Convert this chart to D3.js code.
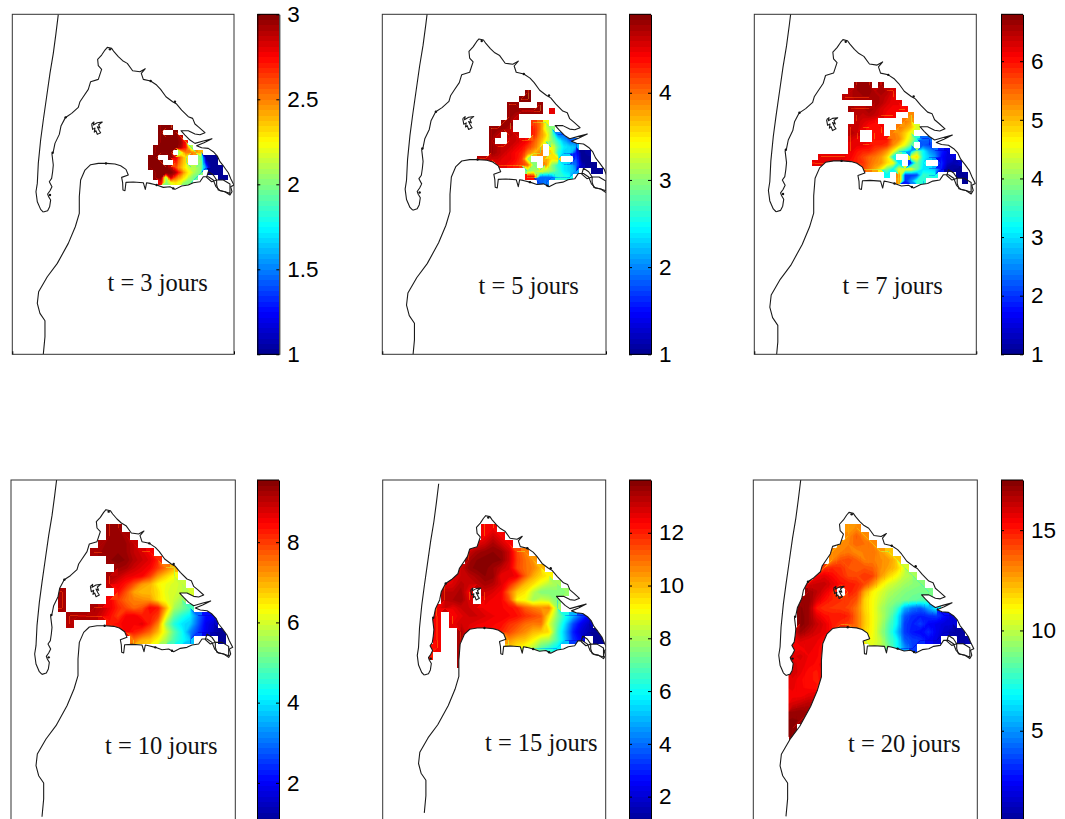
<!DOCTYPE html>
<html lang="fr">
<head>
<meta charset="UTF-8">
<title>t = 3 a 20 jours</title>
<script src="https://cdn.jsdelivr.net/npm/d3@7"></script>
<style>
  html, body { margin: 0; background: #fff; overflow: hidden; }
  svg { display: block; }
  .soft { filter: blur(0.6px); }
</style>
</head>
<body>
<script>
const _ = null;

const days = [3, 5, 7, 10, 15, 20];
const barMin = [1, 1, 1, 1, 1, 0.4];
const barMax = [3, 4.9, 6.8, 9.55, 14, 17.5];
const barTicks = [
  [1, 1.5, 2, 2.5, 3],
  [1, 2, 3, 4],
  [1, 2, 3, 4, 5, 6],
  [2, 4, 6, 8],
  [2, 4, 6, 8, 10, 12],
  [5, 10, 15]
];

// coast, digitised in the units of the first panel (3 units per pixel)
const spitOuter = [[175,43],[168,100],[160,160],[150,220],[140,290],[130,360],[122,420],[115,490],[112,550],[108,575],[112,605],[122,628],[130,636]];
const bayShore = [[130,636],[143,632],[149,620],[152,600],[146,590],[143,582],[150,572],[156,560],[148,545],[155,535],[158,515],[160,495],[156,462],[160,455],[165,430],[178,403],[183,378],[195,355],[200,350],[215,340],[235,322],[240,305],[250,290],[265,268],[272,245],[295,238],[305,208],[295,197],[293,178],[305,165],[315,150],[322,142],[335,145],[342,155],[355,170],[368,182],[382,190],[398,212],[420,215],[436,206],[424,220],[430,238],[452,243],[470,255],[482,268],[498,290],[518,305],[530,312],[545,330],[565,350],[578,355],[585,372],[597,382],[615,398],[600,404],[585,402],[565,392],[543,392],[555,405],[570,420],[585,430],[610,423],[636,416],[612,428],[590,437],[605,443],[625,445],[640,455],[652,468],[660,485],[672,500],[685,518],[692,535],[702,555],[692,560],[696,575],[690,585],[675,575],[660,572],[648,560],[640,540],[625,530],[610,530],[600,545],[580,548],[565,555],[545,558],[525,568],[510,560],[490,562],[470,555],[450,550],[440,548],[436,568],[430,548],[400,546],[378,547],[375,572],[369,570],[368,548],[365,532],[385,525],[378,508],[362,497],[345,492],[320,490],[295,490],[272,494],[255,510],[242,540],[238,590],[238,640],[226,680],[205,730],[172,790],[142,830],[116,875],[112,910],[120,940],[135,962],[135,1010],[130,1063]];
const islandShore = [[275,372],[282,366],[280,375],[292,368],[307,366],[296,374],[300,384],[292,380],[298,392],[302,398],[292,403],[288,392],[283,396],[285,384],[278,388],[275,372]];
const eastIslets = [
  [[650,540],[670,540],[690,552],[690,580],[675,575],[655,570],[650,555],[650,540]],
  [[625,515],[640,525],[650,540],[635,545],[620,532],[625,515]]
];
const shoreDots = [[330,148],[318,490],[452,243],[158,458],[197,352],[525,305],[150,585],[470,555],[520,565]];

// concentration, row by row, null where nothing is drawn
const field3 = [
  [_,_,3,3,3],
  [_,_,3,_,_,3],
  [_,_,3,3,3,3,2.9],
  [_,_,3,3,3,3,2.95,2.7],
  [_,3,3,3,3,3,2.9,2.7,2.1],
  [_,3,3,3,3,_,2.1,2.5,2.5,2.45,2.4],
  [3,3,_,_,3,2.8,2.5,2.3,_,_,2,1,1,1],
  [3,3,3,_,_,2.7,2.45,2.3,_,_,2.05,1.2,1,1],
  [3,3,3,3,2.9,2.6,2.4,2.25,2.1,2.1,2,1.5,1,1,1],
  [_,3,3,3,3,2.9,2.6,2.35,2.2,2.05,2,_,1,1,1],
  [_,3,3,2,2.85,2.55,2.4,2.25,2.05,1.95,_,_,_,_,1,1],
  [_,_,2.8,2,2.2,2.3,2.2,2,2]
];
const field5 = [
  [_,_,_,_,_,_,_,_,4.9],
  [_,_,_,_,_,_,_,4.9,4.9],
  [_,_,_,_,_,4.8,4.8,_,_,_,4.8],
  [_,_,_,_,_,4.8,4.8,4.8,4.8,4.8,4.8,_,4.5],
  [_,_,_,_,_,4.8,4.7],
  [_,_,_,_,4.8,4.8,_,_,_,4.2,4,3.4],
  [_,_,4.8,4.8,4.8,4.7,_,_,_,4.3,4,3.3,3],
  [_,_,4.8,4.7,_,4.7,4.6,_,_,4.3,3.9,3.6,2.9,2,1.9],
  [_,_,4.8,_,_,4.6,4.6,4.5,4.4,4.1,3.8,3.4,3,2.6,2.2,1.9,1.9],
  [_,_,4.8,4.7,4.6,4.6,4.5,4.4,4.2,4,3.7,_,3.4,2.8,2.4,2.3,2.2],
  [_,_,4.8,4.7,4.6,4.5,4.4,4.3,3.9,3.7,3.9,_,3.6,2.6,2.3,2.3,1.6,1,1.1],
  [4.7,4.7,4.6,4.6,4.5,4.5,4.4,4.2,3.1,_,_,3.8,3.5,3.6,_,_,1.8,1,1],
  [_,4.6,_,4.5,4.5,4.4,4.3,4.2,4,3,_,3.9,3,2.6,2.4,2.3,1.9,1.2,1,1],
  [_,_,_,_,_,_,_,_,3,3.1,3.4,3.2,3,2.7,2.4,2.3,2.1,_,_,1,1],
  [_,_,_,_,_,_,_,_,4.4,4.4,1.9,1.9,2,2.6,2.6,2.5],
  [_,_,_,_,_,_,_,_,_,_,1.8,2]
];
const field7 = [
  [_,_,_,_,_,_,_,6.7,6.7,6.7,_,6.7],
  [_,_,_,_,_,_,6.5,6.6,6.7,6.7,6.5,6.6,6.5,6.3],
  [_,_,_,_,_,6.5,6.5,6.6,6.6,6.6,6.6,6.5,6.4,6.2],
  [_,_,_,_,_,_,_,_,_,_,6.6,6.5,6.3,6.2,6.2],
  [_,_,_,_,_,_,6.6,6.5,6.5,6.6,6.5,6.3,6.2,6.1,6.1,6],
  [_,_,_,_,_,_,_,6.5,6.4,6.5,6.4,6.3,6.1,6.1,_,_,5.3],
  [_,_,_,_,_,_,_,6.4,6.3,6.2,6.1,_,_,_,_,5.4,5.2],
  [_,_,_,_,_,_,6.4,6.4,6.2,6,6,6.1,_,_,5.4,5.2,5,4.4],
  [_,_,_,_,_,_,6.5,6.4,_,_,6,6,_,5.4,5.2,4.9,4.5],
  [_,_,_,_,_,_,6.3,6.2,_,_,6,6,6,5.4,5.3,4.8,4.3,3.4,2.3,2.3],
  [_,_,_,_,_,_,6.2,6.2,6.2,6.1,5.9,5.9,5.8,5.3,4.9,4.5,3.8,_,2.2,2.1],
  [_,_,_,_,_,_,6.2,6,5.9,5.9,5.7,5.5,5.2,4.7,3.8,3.3,2.6,4,3.2,2.6,2.3,1.9,1.6],
  [_,6.2,6.2,6.2,6.2,6.2,6.1,5.9,5.7,5.5,5.4,5.2,4.8,3.3,_,_,4.5,4.8,3.2,2.9,2.6,1.8,1.5,1.6],
  [6.2,6.2,6.2,6.2,6.2,6.1,6,5.9,5.8,5.5,5.3,5.2,4.8,4.6,3,_,2,3.8,3.2,_,_,2,1.4,1.2,1.4],
  [_,_,_,_,_,_,_,_,5.7,5.4,5.1,4.7,3.8,3.2,4.4,4.5,4.5,3.8,3,3,2.8,1.9,1.1,1.1,1],
  [_,_,_,_,_,_,_,_,_,_,_,_,3.2,_,5.3,2,2,2.1,3.5,3.4,3.3,_,_,_,1,1.1],
  [_,_,_,_,_,_,_,_,_,_,_,_,_,_,5.2,1.9,2.5,3.4,3.4,_,_,_,_,_,_,1]
];
const field10 = [
  [_,_,_,_,_,_,9.3,9.3],
  [_,_,_,_,_,_,9.3,9.4,9.2],
  [_,_,_,_,_,9.2,9.4,9.4,9.3,9],
  [_,_,_,_,9.2,9.3,9.4,9.4,9.3,9,8.8,8.5],
  [_,_,_,_,_,_,9.4,9.5,9.4,9.1,8.9,8.7,8.2],
  [_,_,_,_,_,_,_,9.3,9.2,8.9,8.7,8.5,8,7.5,7],
  [_,_,_,_,_,_,9.2,9,8.7,8.6,8.5,8,7.2,6.7,6.3],
  [_,_,_,_,_,_,8.9,8.6,8.3,7.8,7.2,7,6.4,6.2,6,5.9],
  [9.2,_,_,_,_,_,_,8.4,7.8,7.1,6.9,6.9,6.6,6.1,6,5.8,6],
  [9.2,_,_,_,_,_,8.6,8,7.6,7.4,7.3,7.2,6.6,6.2,5.9,5.5],
  [9.2,_,_,_,9.2,9,8.6,8.2,7.9,7.6,7.8,8.5,8.3,7,5.6,5.2,4.8],
  [_,9.2,9.2,9.2,9.1,8.8,8.4,8,8.5,8.6,8.3,8.3,8,6.3,5,4.5,4.1,3,2.1,2],
  [_,9.1,_,_,_,_,8.3,8.4,8.6,8.5,8.7,8.2,7.4,5.5,4.5,4,3.8,2.8,1.9,1.6],
  [_,_,_,_,_,_,_,8,8.6,8.3,8,7.6,6.9,6,5,4.3,3.2,2.5,1.9,1.4,1.1],
  [_,_,_,_,_,_,_,_,_,7.5,7,6.8,6.3,5.6,4.8,4.3,3.8,_,_,_,1.1]
];
const field15 = [
  [_,_,_,_,_,_,_,12.5,12.5],
  [_,_,_,_,_,_,_,12.5,13,12.5],
  [_,_,_,_,_,_,12.7,13,13.5,13,12.5],
  [_,_,_,_,_,13,13.5,13.7,13.8,13.7,13,11.5,10.8],
  [_,_,_,_,_,13.5,13.8,13.9,13.9,13.8,13,11.6,11,10.5],
  [_,_,_,_,13,13.7,13.9,13.9,13.6,13.2,12.8,11.5,11,10.7,10],
  [_,_,_,12.7,13,13.2,13.5,13.8,13.7,12.6,12.7,12.5,11.2,10.2,9.6,9.2],
  [_,_,12.6,12.8,13.3,13,13.2,13.5,13.3,12.8,12,11,10,9.5,8.8,8.2,8],
  [_,_,13.2,13.2,13.5,12.5,_,13,12.8,12.5,11,9.8,9.4,8.3,7.5,7.5,7.6,7.8],
  [_,_,13.2,13.4,13.6,12.8,_,12.7,12.5,12.4,11.5,9.2,9,8,8.5,8.2,7.5],
  [_,12.5,13,12.6,13,13,12.8,12.5,12.4,12.4,12.3,12,11.2,10.8,10.5,10.7,8],
  [_,12.4,_,12.4,12.7,13,13,12.8,12.6,12.5,12.4,12.2,11.8,11.5,11.2,9.5,7.6,6.2,5,3.6,2.5],
  [_,12.4,_,12.6,13,12.8,12.6,12.5,12.4,12.3,11.8,11.5,11,10.8,10.9,8.7,7.2,5.5,3.5,2.4,1.7],
  [_,12.4,_,_,13.5,12.5,12.3,12.3,12.3,12,11.5,11,10.6,10,9.8,9.5,6.8,5,3,2,1.5,1.1],
  [_,12.4,_,_,13.5,_,_,_,_,_,10.5,10,9.8,9.2,8.3,8,6.8,5.2,3.3,2.5,_,1,1],
  [12.2,12.4,_,_,13.5,_,_,_,_,_,9.8,9.3,8.8,8.2,7,6.4,5.7],
  [12,_,_,_,13.4],
  [_,_,_,_,13.4]
];
const field20 = [
  [_,_,_,_,_,_,_,12.8,13],
  [_,_,_,_,_,_,_,13,13.8,13],
  [_,_,_,_,_,_,13,13.2,13.7,13.5,13.2],
  [_,_,_,_,_,13,13.2,13.4,13,13.3,13.5,12.8,12],
  [_,_,_,_,_,13.2,14,14.2,13.8,13.2,13.3,13,12.8,12],
  [_,_,_,_,14.5,14.8,14.6,14,13.8,14,13.8,13,12.6,12,10.5],
  [_,_,_,15.5,15.8,15.3,14.8,14.2,14.2,14.5,14.3,12.8,11.8,11,10,9.6],
  [_,_,16,16.2,16.3,15.8,15.2,15,14.8,14.2,13,11.5,10.5,10,9.5,9.2,9],
  [_,_,17,16.5,15.8,15,_,15,14.5,12.5,11.2,10.5,9.8,9.4,9,8.8,8.7,8.9],
  [_,17,17.2,16,15.2,14.8,14.6,14.4,14,11.8,11,10.2,9.4,9,8.8,8.5,8.3,8],
  [_,17.3,17,15,14.6,14.5,14.4,14.2,13.4,11.8,11,9.8,9,8,5.5,4.5,4,5.5,7],
  [_,17.4,17,15.8,15.2,15,15.1,14.8,13.5,12,11,10,8.8,7,4,3.2,3,3.2,3.4,2.7,1.8],
  [_,17.4,17,16.3,15.8,15,14.6,14.4,13.5,12,11,9.8,8.2,6.8,3.5,3,3.5,2.5,2.2,1.8,1.8],
  [16,17,16.5,16,15.8,15,_,_,13.5,11.8,11,9.5,8,6,3.5,2.8,2.5,3.2,2.2,1.5,1,0.8],
  [15.5,16,15.8,15.7,15.2,_,_,_,_,11.5,10.8,10,8.2,7,4,3.5,3.3,2.5,2,_,_,0.7,1],
  [15.4,15.5,15.8,15.5,15,_,_,_,_,_,10.5,10,8.8,7,5,3.6],
  [15.8,16,15.6,15.4,15.2],
  [16,15.8,15.5,15.3,15.5],
  [16.2,15.7,15.2,15,15.5],
  [15.8,15.4,15.2,15,15.3],
  [15.7,15.4,15.3,15.2],
  [15.5,15.5,15.8,16],
  [16,16.3,16.6,16.5],
  [17,17.2,17],
  [17.3,17.2],
  [17.4],
  [17.3]
];
const fields = [field3, field5, field7, field10, field15, field20];

const width = 1065, height = 819;
const nLevels = 64;

// where each panel sits on the page
const panels = [
  {frame: [12.3, 234, 14.3, 354.3], bar: 257.3, tip: [108.3, 47.7], k: [1, 1], label: [107.5, 291.2], grid: [148.3, 125, 5]},
  {frame: [382.3, 606, 14.3, 354.3], bar: 629, tip: [480, 39.3], k: [1.035, 1.04], label: [478.5, 294], grid: [476.7, 90, 6]},
  {frame: [754.3, 976.3, 14.3, 354.3], bar: 1001, tip: [844, 40], k: [1.045, 1.045], label: [842.5, 294], grid: [812, 82, 6]},
  {frame: [11, 235.3, 480, 823], bar: 257, tip: [107, 510], k: [1, 1], label: [105, 754], grid: [58, 524, 8]},
  {frame: [382.7, 605.7, 480, 823], bar: 629, tip: [486.7, 516], k: [0.96, 0.968], label: [485, 751], grid: [425, 524, 8]},
  {frame: [753.3, 977.3, 480, 823], bar: 1001, tip: [850, 512.7], k: [0.985, 0.99], label: [848, 752.3], grid: [788.5, 524, 8]}
];

// matlab jet
const jet = d3.scaleLinear()
  .domain([0, 0.125, 0.375, 0.625, 0.875, 1])
  .range(['#00008f', '#0000ff', '#00ffff', '#ffff00', '#ff0000', '#800000']);

const svg = d3.select('body').append('svg')
  .attr('width', width)
  .attr('height', height);

const line = d3.line();

panels.forEach((p, n) => {
  const [left, right, top, bottom] = p.frame;
  const g = svg.append('g');

  // coast units to pixels, the maps are not all at the same scale
  const x = d3.scaleLinear().domain([325, 700]).range([p.tip[0], p.tip[0] + 125 * p.k[0]]);
  const y = d3.scaleLinear().domain([143, 1063]).range([p.tip[1], p.tip[1] + 306.7 * p.k[1]]);
  const xy = pts => line(pts.map(d => [x(d[0]), y(d[1])]));

  svg.append('clipPath').attr('id', 'frame' + n)
    .append('rect')
    .attr('x', left).attr('y', top)
    .attr('width', right - left).attr('height', bottom - top);

  svg.append('clipPath').attr('id', 'sea' + n)
    .append('path')
    .attr('d', xy(bayShore.concat([[-100, 1063], [-100, 636]])) + 'Z');

  const map = g.append('g').attr('clip-path', `url(#frame${n})`);

  // field
  const rows = fields[n];
  const cols = d3.max(rows, r => r.length);
  const values = rows.flatMap(r => d3.range(cols).map(i => r[i] === undefined ? null : r[i]));
  const cells = values
    .map((v, i) => ({v, col: i % cols, row: Math.floor(i / cols)}))
    .filter(d => d.v !== null);
  const [gx0, gy0, step] = p.grid;
  const gx = d3.scaleLinear().domain([0, cols]).range([gx0, gx0 + cols * step]);
  const gy = d3.scaleLinear().domain([0, rows.length]).range([gy0, gy0 + rows.length * step]);
  const path = d3.geoPath(d3.geoTransform({
    point(a, b) { this.stream.point(gx(a), gy(b)); }
  }));
  const levels = d3.range(nLevels).map(i => barMin[n] + i * (barMax[n] - barMin[n]) / nLevels);
  const contours = d3.contours().size([cols, rows.length]).thresholds(levels)(values);
  const level = v => Math.min(nLevels - 1, Math.floor((v - barMin[n]) / (barMax[n] - barMin[n]) * nLevels));

  // the contours cut the corners of the grid cells, so square cells go under
  // them and the same cells clip them
  const cellRect = s => s
    .attr('x', d => gx(d.col))
    .attr('y', d => gy(d.row))
    .attr('width', step)
    .attr('height', step);
  svg.append('clipPath').attr('id', 'cells' + n)
    .selectAll('rect')
    .data(cells)
    .join('rect')
    .call(cellRect);

  const sea = map.append('g').attr('clip-path', `url(#sea${n})`).append('g').attr('class', 'soft');
  sea.append('g')
    .selectAll('rect')
    .data(cells)
    .join('rect')
    .call(cellRect)
    .attr('fill', d => jet((level(d.v) + 0.5) / nLevels))
    .attr('shape-rendering', 'crispEdges');
  sea.append('g')
    .attr('clip-path', `url(#cells${n})`)
    .selectAll('path')
    .data(contours)
    .join('path')
    .attr('d', path)
    .attr('fill', (d, i) => jet((i + 0.5) / nLevels))
    .attr('stroke', (d, i) => jet((i + 0.5) / nLevels))
    .attr('stroke-width', 0.3);

  // coast
  const coast = map.append('g')
    .attr('fill', 'none')
    .attr('stroke', '#1a1a1a')
    .attr('stroke-width', 1.1)
    .attr('stroke-linejoin', 'round');
  coast.append('path').attr('d', xy(spitOuter));
  coast.append('path').attr('d', xy(bayShore));
  coast.append('path').attr('d', xy(islandShore));
  eastIslets.forEach(s => coast.append('path').attr('d', xy(s)));
  map.selectAll('circle')
    .data(shoreDots)
    .join('circle')
    .attr('cx', d => x(d[0]))
    .attr('cy', d => y(d[1]))
    .attr('r', 1.2)
    .attr('fill', '#111');

  // frame and its two small ticks
  g.append('rect')
    .attr('x', left).attr('y', top)
    .attr('width', right - left).attr('height', bottom - top)
    .attr('fill', 'none')
    .attr('stroke', '#333')
    .attr('stroke-width', 1);
  const frameX = d3.scaleLinear().domain([0, 1]).range([left, right]);
  g.append('g')
    .attr('transform', `translate(0,${bottom})`)
    .call(d3.axisBottom(frameX).tickValues([0, 1]).tickSize(-3).tickSizeOuter(0).tickFormat(''))
    .call(a => a.select('.domain').remove());

  g.append('text')
    .attr('x', p.label[0])
    .attr('y', p.label[1])
    .attr('font-family', '"Liberation Serif", serif')
    .attr('font-size', 24.5)
    .attr('fill', '#111')
    .text(`t = ${days[n]} jours`);

  // colorbar
  const barW = 22;
  const barY = d3.scaleLinear().domain([barMin[n], barMax[n]]).range([bottom, top]);
  g.append('g')
    .selectAll('rect')
    .data(levels)
    .join('rect')
    .attr('x', p.bar)
    .attr('y', d => barY(d + (barMax[n] - barMin[n]) / nLevels))
    .attr('width', barW)
    .attr('height', (bottom - top) / nLevels + 0.4)
    .attr('fill', (d, i) => jet((i + 0.5) / nLevels))
    .attr('shape-rendering', 'crispEdges');

  const fmt = d => String(d);
  g.append('g')
    .attr('transform', `translate(${p.bar + barW},0)`)
    .call(d3.axisRight(barY).tickValues(barTicks[n]).tickSizeInner(-3).tickSizeOuter(0).tickPadding(8).tickFormat(fmt))
    .call(a => a.selectAll('text')
      .attr('font-family', '"Liberation Sans", sans-serif')
      .attr('font-size', 22.5)
      .attr('fill', '#000'));
  g.append('g')
    .attr('transform', `translate(${p.bar},0)`)
    .call(d3.axisLeft(barY).tickValues(barTicks[n]).tickSizeInner(-3).tickSizeOuter(0).tickFormat(''));
  g.append('line')
    .attr('x1', p.bar).attr('x2', p.bar + barW)
    .attr('y1', top).attr('y2', top)
    .attr('stroke', '#000');
  g.append('line')
    .attr('x1', p.bar).attr('x2', p.bar + barW)
    .attr('y1', bottom).attr('y2', bottom)
    .attr('stroke', '#000');
});
</script>
</body>
</html>
